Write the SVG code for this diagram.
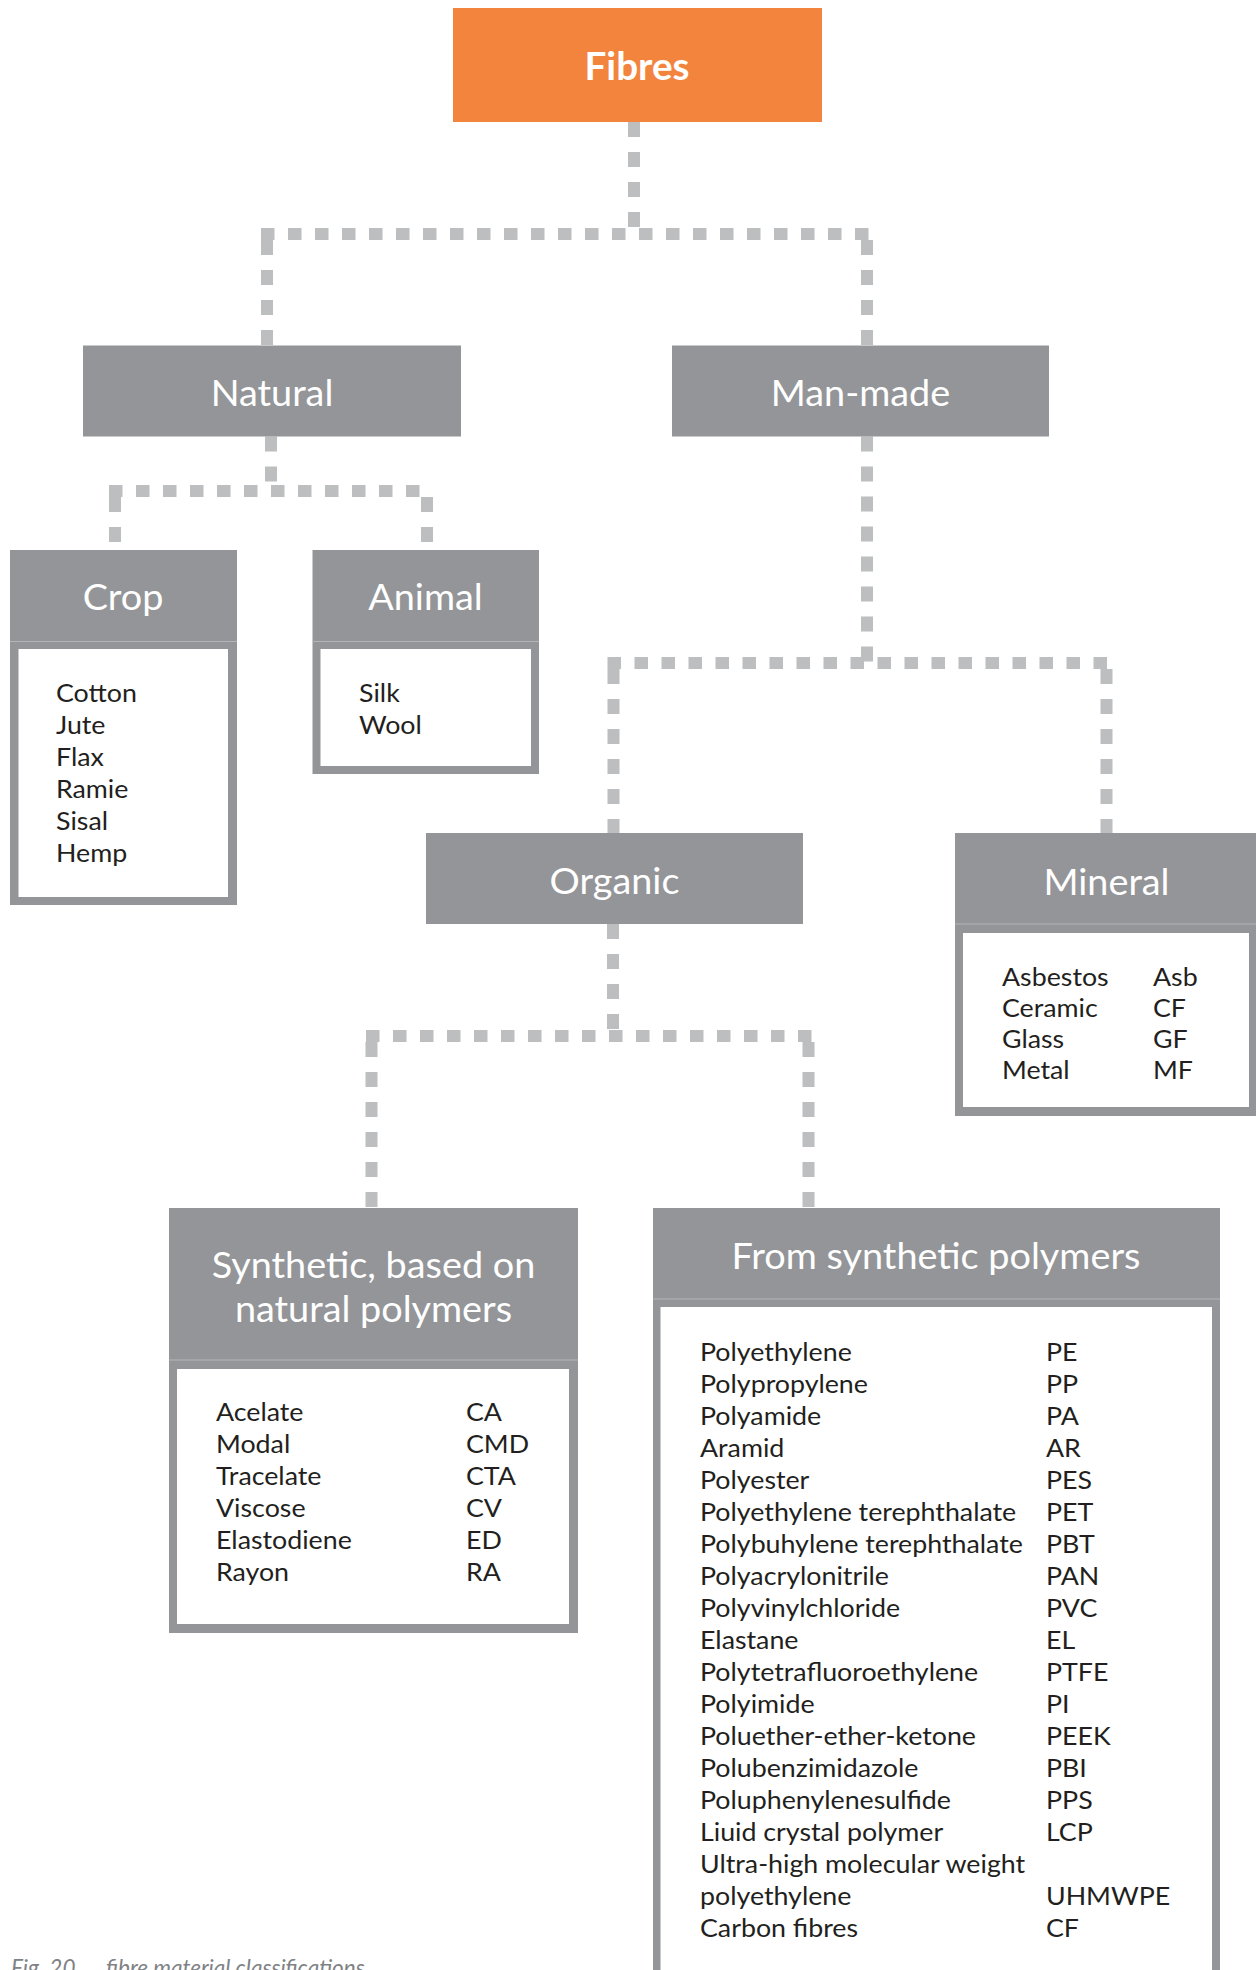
<svg xmlns="http://www.w3.org/2000/svg" width="1256" height="1970" viewBox="0 0 1256 1970">
<style>
.frame{fill:#939598}
.inner{fill:#ffffff}
.sep{stroke:#b3b5b8;stroke-width:1}
.ttl{font-family:Lato,"Liberation Sans",sans-serif;font-size:36px;font-weight:400;fill:#ffffff;text-anchor:middle}
.lst{font-family:Lato,"Liberation Sans",sans-serif;font-size:25.5px;fill:#231f20}
.cv{fill:none;stroke:#bcbec0;stroke-width:12;stroke-dasharray:15 15}
.ch{fill:none;stroke:#bcbec0;stroke-width:12;stroke-dasharray:13.5 13.5}
.cap{font-family:Lato,"Liberation Sans",sans-serif;font-size:22.5px;font-style:italic;font-weight:400;fill:#808285}
</style>
<rect width="1256" height="1970" fill="#ffffff"/>
<g id="connectors">
  <path class="cv" d="M634 122V234"/>
  <path class="ch" d="M261 234H873"/>
  <path class="cv" d="M267 240V345.5"/>
  <path class="cv" d="M867 240V345.5"/>
  <path class="cv" d="M271 436.5V491"/>
  <path class="ch" d="M109 491H433"/>
  <path class="cv" d="M115 497V550"/>
  <path class="cv" d="M427 497V550"/>
  <path class="cv" d="M867 436.5V663"/>
  <path class="ch" d="M607.5 663H1112"/>
  <path class="cv" d="M613.5 669V833"/>
  <path class="cv" d="M1106.5 669V833"/>
  <path class="cv" d="M613 924V1036"/>
  <path class="ch" d="M366 1036H815"/>
  <path class="cv" d="M371.5 1042V1208"/>
  <path class="cv" d="M808.5 1042V1208"/>
</g>
<g id="fibres">
  <rect x="453" y="8" width="369" height="114" fill="#f3843e"/>
  <text transform="translate(637 0) scale(1.03 1)" x="0" y="80" font-family="Lato,'Liberation Sans',sans-serif" font-size="37.5" font-weight="700" fill="#ffffff" text-anchor="middle">Fibres</text>
</g>
<g id="natural">
  <rect class="frame" x="83" y="345.5" width="378" height="91"/>
  <text class="ttl" transform="translate(272 0) scale(1.05 1)" x="0" y="406">Natural</text>
</g>
<g id="man-made">
  <rect class="frame" x="672" y="345.5" width="377" height="91"/>
  <text class="ttl" transform="translate(860.5 0) scale(1.05 1)" x="0" y="406">Man-made</text>
</g>
<g id="crop">
  <rect class="frame" x="10" y="550" width="227" height="355"/>
  <line class="sep" x1="10" y1="641.5" x2="237" y2="641.5"/>
  <rect class="inner" x="18.5" y="649" width="209.5" height="248"/>
  <text class="ttl" transform="translate(123 0) scale(1.05 1)" x="0" y="610">Crop</text>
  <g transform="translate(56 0) scale(1.05 1)"><text class="lst" y="702"><tspan x="0">Cotton</tspan><tspan x="0" dy="32">Jute</tspan><tspan x="0" dy="32">Flax</tspan><tspan x="0" dy="32">Ramie</tspan><tspan x="0" dy="32">Sisal</tspan><tspan x="0" dy="32">Hemp</tspan></text></g>
</g>
<g id="animal">
  <rect class="frame" x="312.5" y="550" width="226.5" height="224"/>
  <line class="sep" x1="312.5" y1="641.5" x2="539" y2="641.5"/>
  <rect class="inner" x="320.5" y="649" width="210.5" height="117"/>
  <text class="ttl" transform="translate(425.5 0) scale(1.05 1)" x="0" y="610">Animal</text>
  <g transform="translate(359 0) scale(1.05 1)"><text class="lst" y="702"><tspan x="0">Silk</tspan><tspan x="0" dy="32">Wool</tspan></text></g>
</g>
<g id="organic">
  <rect class="frame" x="426" y="833" width="377" height="91"/>
  <text class="ttl" transform="translate(614.5 0) scale(1.05 1)" x="0" y="894">Organic</text>
</g>
<g id="mineral">
  <rect class="frame" x="955" y="833" width="302" height="283"/>
  <line class="sep" x1="955" y1="924" x2="1257" y2="924"/>
  <rect class="inner" x="963" y="933" width="286" height="174"/>
  <text class="ttl" transform="translate(1106.5 0) scale(1.05 1)" x="0" y="895">Mineral</text>
  <g transform="translate(1002 0) scale(1.05 1)"><text class="lst" y="986"><tspan x="0">Asbestos</tspan><tspan x="0" dy="31">Ceramic</tspan><tspan x="0" dy="31">Glass</tspan><tspan x="0" dy="31">Metal</tspan></text></g>
  <g transform="translate(1153 0) scale(1.05 1)"><text class="lst" y="986"><tspan x="0">Asb</tspan><tspan x="0" dy="31">CF</tspan><tspan x="0" dy="31">GF</tspan><tspan x="0" dy="31">MF</tspan></text></g>
</g>
<g id="synthetic-natural">
  <rect class="frame" x="169" y="1208" width="409" height="425"/>
  <line class="sep" x1="169" y1="1360" x2="578" y2="1360"/>
  <rect class="inner" x="177" y="1369" width="392" height="255"/>
  <text class="ttl" transform="translate(373.5 0) scale(1.05 1)" x="0" y="1278">Synthetic, based on</text>
  <text class="ttl" transform="translate(373.5 0) scale(1.05 1)" x="0" y="1322">natural polymers</text>
  <g transform="translate(216 0) scale(1.05 1)"><text class="lst" y="1421"><tspan x="0">Acelate</tspan><tspan x="0" dy="32">Modal</tspan><tspan x="0" dy="32">Tracelate</tspan><tspan x="0" dy="32">Viscose</tspan><tspan x="0" dy="32">Elastodiene</tspan><tspan x="0" dy="32">Rayon</tspan></text></g>
  <g transform="translate(466 0) scale(1.05 1)"><text class="lst" y="1421"><tspan x="0">CA</tspan><tspan x="0" dy="32">CMD</tspan><tspan x="0" dy="32">CTA</tspan><tspan x="0" dy="32">CV</tspan><tspan x="0" dy="32">ED</tspan><tspan x="0" dy="32">RA</tspan></text></g>
</g>
<g id="synthetic-polymers">
  <rect class="frame" x="653" y="1208" width="567" height="780"/>
  <line class="sep" x1="653" y1="1299" x2="1220" y2="1299"/>
  <rect class="inner" x="660.5" y="1307" width="551.5" height="680"/>
  <text class="ttl" transform="translate(936 0) scale(1.05 1)" x="0" y="1269">From synthetic polymers</text>
  <g transform="translate(700 0) scale(1.05 1)"><text class="lst" y="1361"><tspan x="0">Polyethylene</tspan><tspan x="0" dy="32">Polypropylene</tspan><tspan x="0" dy="32">Polyamide</tspan><tspan x="0" dy="32">Aramid</tspan><tspan x="0" dy="32">Polyester</tspan><tspan x="0" dy="32">Polyethylene terephthalate</tspan><tspan x="0" dy="32">Polybuhylene terephthalate</tspan><tspan x="0" dy="32">Polyacrylonitrile</tspan><tspan x="0" dy="32">Polyvinylchloride</tspan><tspan x="0" dy="32">Elastane</tspan><tspan x="0" dy="32">Polytetrafluoroethylene</tspan><tspan x="0" dy="32">Polyimide</tspan><tspan x="0" dy="32">Poluether-ether-ketone</tspan><tspan x="0" dy="32">Polubenzimidazole</tspan><tspan x="0" dy="32">Poluphenylenesulfide</tspan><tspan x="0" dy="32">Liuid crystal polymer</tspan><tspan x="0" dy="32">Ultra-high molecular weight</tspan><tspan x="0" dy="32">polyethylene</tspan><tspan x="0" dy="32">Carbon fibres</tspan></text></g>
  <g transform="translate(1046 0) scale(1.05 1)"><text class="lst" y="1361"><tspan x="0">PE</tspan><tspan x="0" dy="32">PP</tspan><tspan x="0" dy="32">PA</tspan><tspan x="0" dy="32">AR</tspan><tspan x="0" dy="32">PES</tspan><tspan x="0" dy="32">PET</tspan><tspan x="0" dy="32">PBT</tspan><tspan x="0" dy="32">PAN</tspan><tspan x="0" dy="32">PVC</tspan><tspan x="0" dy="32">EL</tspan><tspan x="0" dy="32">PTFE</tspan><tspan x="0" dy="32">PI</tspan><tspan x="0" dy="32">PEEK</tspan><tspan x="0" dy="32">PBI</tspan><tspan x="0" dy="32">PPS</tspan><tspan x="0" dy="32">LCP</tspan><tspan x="0" dy="64">UHMWPE</tspan><tspan x="0" dy="32">CF</tspan></text></g>
</g>
<text class="cap" x="11" y="1975.5">Fig. 20<tspan x="106">fibre material classifications</tspan></text>
</svg>
